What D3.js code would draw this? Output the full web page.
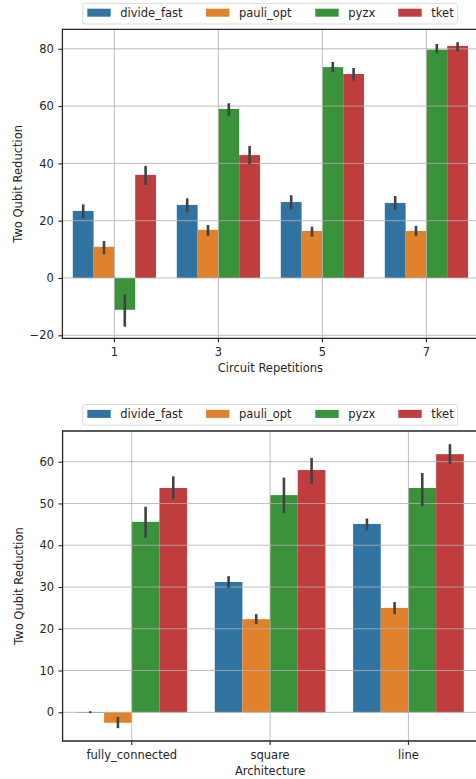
<!DOCTYPE html>
<html>
<head>
<meta charset="utf-8">
<script src="https://cdn.jsdelivr.net/npm/d3@7"></script>
<style>
  body { margin: 0; background: #fff; }
  svg { display: block; font-family: "DejaVu Sans", sans-serif; }
</style>
</head>
<body>
<svg id="drawing_region"></svg>
<script>
// series names and colours
const methods = ["divide_fast", "pauli_opt", "pyzx", "tket"];
const colors = ["#3274a1", "#e1812c", "#3a923a", "#c03d3e"];

// top chart: circuit repetitions
const repetitions = ["1", "3", "5", "7"];
const repDivideFast = [23.4, 25.5, 26.5, 26.2];
const repPauliOpt = [10.9, 16.8, 16.4, 16.4];
const repPyzx = [-11.1, 59.0, 73.6, 79.7];
const repTket = [36.0, 42.9, 71.2, 81.0];
const repDivideFastCi = [[21.0, 25.7], [22.9, 27.8], [24.0, 28.9], [23.8, 28.6]];
const repPauliOptCi = [[8.3, 12.9], [14.7, 18.5], [14.4, 17.9], [14.6, 18.2]];
const repPyzxCi = [[-17.0, -5.7], [56.5, 61.0], [71.8, 75.4], [78.5, 81.7]];
const repTketCi = [[32.5, 39.1], [39.7, 46.1], [68.9, 73.3], [79.1, 82.3]];
const repYTicks = [-20, 0, 20, 40, 60, 80];

// bottom chart: architecture
const architectures = ["fully_connected", "square", "line"];
const archDivideFast = [0.05, 31.2, 45.1];
const archPauliOpt = [-2.5, 22.3, 25.0];
const archPyzx = [45.6, 52.0, 53.7];
const archTket = [53.7, 58.0, 61.8];
const archDivideFastCi = [[-0.2, 0.25], [29.8, 32.6], [43.6, 46.4]];
const archPauliOptCi = [[-3.8, -1.1], [21.1, 23.5], [23.5, 26.4]];
const archPyzxCi = [[41.8, 49.2], [47.7, 56.2], [49.4, 57.3]];
const archTketCi = [[51.0, 56.5], [54.7, 60.9], [59.4, 64.2]];
const archYTicks = [0, 10, 20, 30, 40, 50, 60];

const svg = d3.select("#drawing_region")
    .attr("width", 476)
    .attr("height", 779);

function buildRows(categories, means, cis) {
    let rows = [];
    categories.forEach((c, i) => {
        methods.forEach((m, j) => {
            rows.push({ cat: c, method: m, value: means[j][i], lo: cis[j][i][0], hi: cis[j][i][1], color: colors[j] });
        });
    });
    return rows;
}

function drawChart(config) {
    const g = svg.append("g")
        .attr("transform", `translate(${config.left}, ${config.top})`);
    const w = config.innerWidth, h = config.innerHeight;

    const xscale = d3.scaleBand().domain(config.categories).range([0, w]);
    const hue = d3.scaleBand().domain(methods)
        .range([xscale.bandwidth() * 0.1, xscale.bandwidth() * 0.9]);
    const yscale = d3.scaleLinear().domain(config.ydomain).range([h, 0]);

    // bars
    g.selectAll("rect.bar")
        .data(config.rows)
        .join("rect")
        .attr("class", "bar")
        .attr("x", d => xscale(d.cat) + hue(d.method))
        .attr("width", hue.bandwidth())
        .attr("y", d => yscale(Math.max(0, d.value)))
        .attr("height", d => Math.max(0.6, Math.abs(yscale(d.value) - yscale(0))))
        .attr("fill", d => d.color);

    // grid (drawn above bars, like matplotlib default)
    g.append("g")
        .selectAll("line.hgrid")
        .data(config.yticks)
        .join("line")
        .attr("x1", 0).attr("x2", w)
        .attr("y1", d => yscale(d)).attr("y2", d => yscale(d))
        .attr("stroke", "#b0b0b0").attr("stroke-width", 0.9).attr("opacity", 0.9);
    g.append("g")
        .selectAll("line.vgrid")
        .data(config.categories)
        .join("line")
        .attr("x1", d => xscale(d) + xscale.bandwidth() / 2)
        .attr("x2", d => xscale(d) + xscale.bandwidth() / 2)
        .attr("y1", 0).attr("y2", h)
        .attr("stroke", "#b0b0b0").attr("stroke-width", 0.9).attr("opacity", 0.9);

    // error bars
    g.selectAll("line.err")
        .data(config.rows)
        .join("line")
        .attr("class", "err")
        .attr("x1", d => xscale(d.cat) + hue(d.method) + hue.bandwidth() / 2)
        .attr("x2", d => xscale(d.cat) + hue(d.method) + hue.bandwidth() / 2)
        .attr("y1", d => yscale(d.lo))
        .attr("y2", d => yscale(d.hi))
        .attr("stroke", "#424242")
        .attr("stroke-width", 2.6);

    // axes
    const xaxis = d3.axisBottom(xscale).tickSizeOuter(0).tickSize(4).tickPadding(5.5);
    const yaxis = d3.axisLeft(yscale).tickValues(config.yticks).tickSizeOuter(0).tickSize(4).tickPadding(4.5)
        .tickFormat(d => d < 0 ? "\u2212" + Math.abs(d) : d);

    const xg = g.append("g").attr("transform", `translate(0, ${h})`).call(xaxis);
    const yg = g.append("g").call(yaxis);
    [xg, yg].forEach(a => {
        a.select(".domain").remove();
        a.selectAll(".tick line").attr("stroke", "#262626").attr("stroke-width", 1.1);
        a.selectAll(".tick text").attr("fill", "#262626").attr("font-size", "11.5px")
            .attr("font-family", "DejaVu Sans");
    });

    // spines
    g.append("path")
        .attr("d", `M${w},0H0V${h}H${w}`)
        .attr("fill", "none")
        .attr("stroke", "#262626")
        .attr("stroke-width", 1.3);

    g.append("text")
        .text(config.xlabel)
        .attr("x", w / 2)
        .attr("y", h + 33.8)
        .attr("text-anchor", "middle")
        .attr("font-size", "11.5px")
        .attr("fill", "#262626");

    g.append("text")
        .text("Two Qubit Reduction")
        .attr("transform", `translate(${-40}, ${h / 2}) rotate(-90)`)
        .attr("text-anchor", "middle")
        .attr("font-size", "11.5px")
        .attr("fill", "#262626");

    // legend
    const lg = svg.append("g").attr("transform", `translate(82.7, ${config.legendTop})`);
    lg.append("rect")
        .attr("width", 375).attr("height", 20.7)
        .attr("rx", 2.5)
        .attr("fill", "#fff").attr("fill-opacity", 0.8)
        .attr("stroke", "#d6d6d6").attr("stroke-width", 0.9);
    const xs = [4.6, 123.3, 232.6, 315.6];
    methods.forEach((m, j) => {
        lg.append("rect")
            .attr("x", xs[j]).attr("y", 5.4)
            .attr("width", 23.4).attr("height", 8)
            .attr("fill", colors[j]);
        lg.append("text")
            .text(m)
            .attr("x", xs[j] + 33).attr("y", 13.6)
            .attr("font-size", "11.5px")
            .attr("fill", "#262626");
    });
}

drawChart({
    left: 62.4, top: 29.3, innerWidth: 416, innerHeight: 309,
    categories: repetitions,
    rows: buildRows(repetitions, [repDivideFast, repPauliOpt, repPyzx, repTket],
        [repDivideFastCi, repPauliOptCi, repPyzxCi, repTketCi]),
    ydomain: [-21.05, 86.8],
    yticks: repYTicks,
    xlabel: "Circuit Repetitions",
    legendTop: 3.3
});

drawChart({
    left: 62.6, top: 431, innerWidth: 415, innerHeight: 310,
    categories: architectures,
    rows: buildRows(architectures, [archDivideFast, archPauliOpt, archPyzx, archTket],
        [archDivideFastCi, archPauliOptCi, archPyzxCi, archTketCi]),
    ydomain: [-6.87, 67.35],
    yticks: archYTicks,
    xlabel: "Architecture",
    legendTop: 404.5
});
</script>
</body>
</html>
